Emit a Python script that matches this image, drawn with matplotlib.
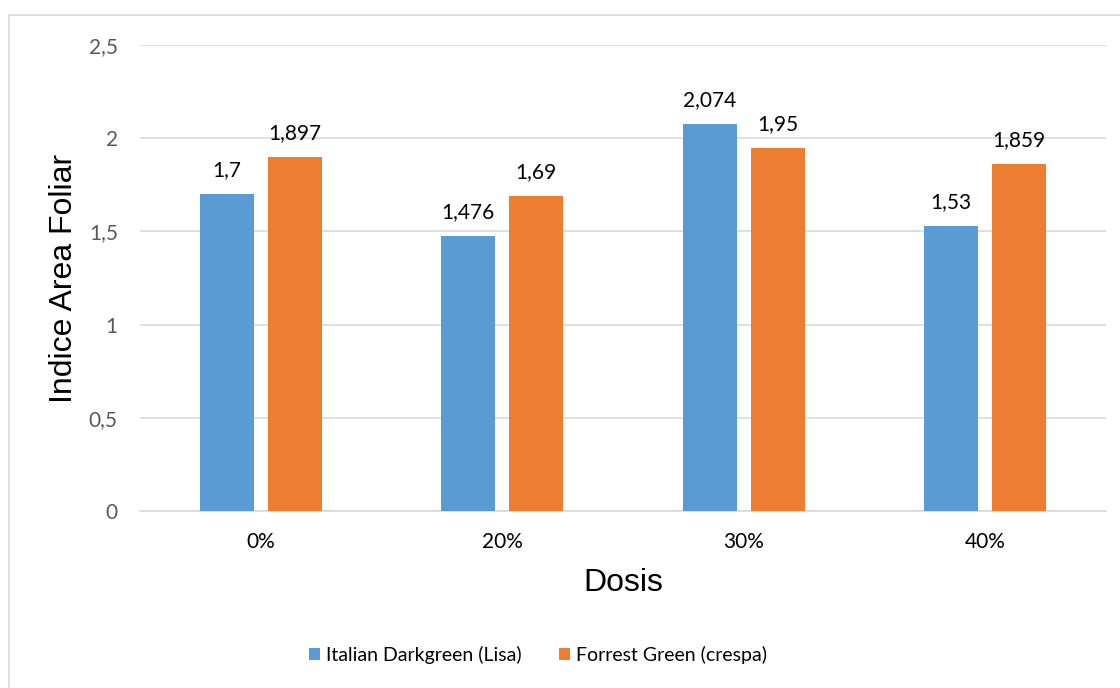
import numpy as np
import matplotlib.pyplot as plt
from matplotlib.patches import Rectangle

dosis = ['0%', '20%', '30%', '40%']
lisa = [1.7, 1.476, 2.074, 1.53]
crespa = [1.897, 1.69, 1.95, 1.859]
series_names = ['Italian Darkgreen (Lisa)', 'Forrest Green (crespa)']
yticks = [0, 0.5, 1, 1.5, 2, 2.5]

blue = '#5B9BD5'
orange = '#ED7D31'
font = 'Lato'

def fmt(v):
    return ('%g' % v).replace('.', ',')

fig = plt.figure(figsize=(11.2, 6.88), dpi=100)
# light chart border
fig.patches.append(Rectangle((9 / 1120, -0.01), 1.05, 1 - 15 / 688 + 0.01,
                             transform=fig.transFigure, fill=False,
                             edgecolor='#D9D9D9', linewidth=1.2))

ax = fig.add_axes([0.125, 0.2573, 0.8625, 0.6773])
x = np.arange(len(dosis))
w = 0.224
off = 0.141
b1 = ax.bar(x - off, lisa, w, color=blue, label=series_names[0], zorder=3)
b2 = ax.bar(x + off, crespa, w, color=orange, label=series_names[1], zorder=3)

for bars, vals in ((b1, lisa), (b2, crespa)):
    for r, v in zip(bars, vals):
        ax.annotate(fmt(v), (r.get_x() + r.get_width() / 2, v),
                    xytext=(0, 10), textcoords='offset points',
                    ha='center', va='bottom', fontsize=15,
                    family=font, color='#000000')

ax.set_xlim(-0.5, len(dosis) - 0.5)
ax.set_ylim(0, 2.5)
ax.set_yticks(yticks)
ax.set_yticklabels([fmt(t) for t in yticks], family=font, fontsize=15, color='#595959')
ax.set_xticks(x)
ax.set_xticklabels(dosis, family=font, fontsize=15, color='#000000')
ax.tick_params(length=0)
ax.tick_params(axis='y', pad=16)
ax.tick_params(axis='x', pad=15)
ax.grid(axis='y', color='#D9D9D9', linewidth=1.2, zorder=0)
for s in ['top', 'right', 'left']:
    ax.spines[s].set_visible(False)
ax.spines['bottom'].set_color('#D9D9D9')
ax.spines['bottom'].set_linewidth(1.2)

ax.set_xlabel('Dosis', family='Liberation Sans', fontsize=23, labelpad=12)
ax.set_ylabel('Indice Area Foliar', family='Liberation Sans', fontsize=23)
ax.yaxis.set_label_coords(-0.063, 0.5)

fig.legend(handles=[b1, b2], loc='center', bbox_to_anchor=(538 / 1120, 1 - 655 / 688),
           ncol=2, frameon=False, prop={'family': font, 'size': 14},
           handlelength=0.6, handleheight=0.6, handletextpad=0.3, columnspacing=1.9)

plt.savefig('out.png', dpi=100)
